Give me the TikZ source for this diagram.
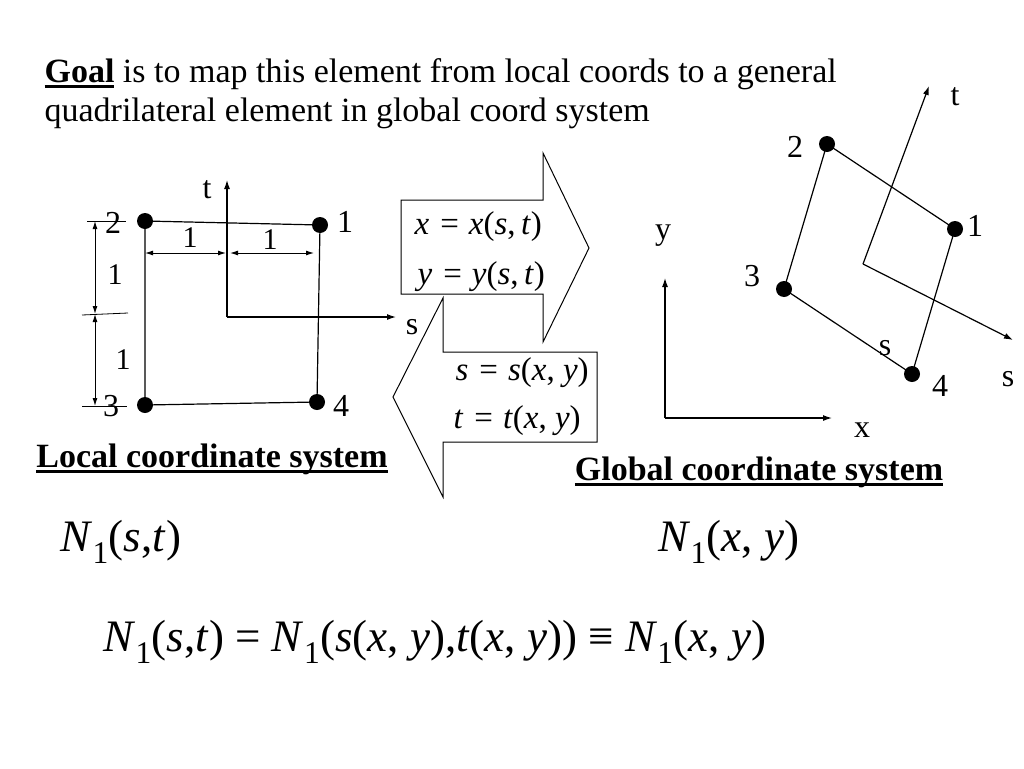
\documentclass[tikz,border=0pt]{standalone}
\usepackage{fontspec}
\setmainfont{Liberation Serif}
\usetikzlibrary{arrows.meta}
\newcommand{\fs}[1]{\fontsize{#1}{#1}\selectfont}
\newcommand{\vi}[1]{\textit{#1}}
\newsavebox{\ulbox}
\newcommand{\ul}[1]{\sbox{\ulbox}{#1}\rlap{\rule[-0.17em]{\wd\ulbox}{0.07em}}\usebox{\ulbox}}

\begin{document}
\begin{tikzpicture}[x=1pt,y=-1pt,line width=1.2pt,
  dot/.style={circle,fill,inner sep=0pt,minimum size=16pt},
  lbl/.style={inner sep=0pt,font=\fs{32}},
  ax/.style={-{Latex[length=9pt,width=6pt]}},
  dim/.style={{Latex[length=8pt,width=5pt]}-{Latex[length=8pt,width=5pt]}},
  blk/.style={draw,fill=white,line width=1pt},
  eq/.style={anchor=west,inner sep=0pt,font=\fs{33}},
  big/.style={anchor=base west,inner sep=0pt,font=\fs{45}}]
\useasboundingbox (0,0) rectangle (1024,768);

% title
\node[anchor=base west,inner sep=0pt,font=\fs{34}] (goal) at (44,82)
  {\ul{\textbf{Goal}} is to map this element from local coords to a general};
\node[anchor=base west,inner sep=0pt,font=\fs{34}] (goal2) at (44,121)
  {quadrilateral element in global coord system};

% local element
\node[dot] (l2) at (145,221) {};
\node[dot] (l1) at (320,225) {};
\node[dot] (l3) at (145,405) {};
\node[dot] (l4) at (317,402) {};
\draw (l2.center) -- (l1.center) -- (l4.center) -- (l3.center) -- cycle;
\node[lbl] at (113,223) {2};
\node[lbl] at (345,222) {1};
\node[lbl] at (111,406) {3};
\node[lbl] at (341,406) {4};

\coordinate (lo) at (227,317);
\coordinate (lt) at (227,180);
\coordinate (ls) at (396,317);
\draw[ax] (lo) -- (lt);
\draw[ax] (lo) -- (ls);
\node[lbl] at (207,190) {t};
\node[lbl] at (412,327) {s};

% dimensions
\coordinate (h1) at (145,253);
\coordinate (h2) at (226,253);
\coordinate (h3) at (230,253);
\coordinate (h4) at (314,253);
\draw[dim,line width=1pt] (h1) -- (h2);
\draw[dim,line width=1pt] (h3) -- (h4);
\node[lbl,font=\fs{30}] at (190,238) {1};
\node[lbl,font=\fs{30}] at (270,240) {1};
\coordinate (v1) at (95,221);
\coordinate (v2) at (95,314);
\coordinate (v3) at (95,406);
\draw[dim,line width=1pt] (v1) -- (v2);
\draw[dim,line width=1pt] (v2) -- (v3);
\node[lbl,font=\fs{30}] at (115,275) {1};
\node[lbl,font=\fs{30}] at (123,360) {1};
\draw[line width=0.8pt] (87,221) -- (126,221);
\draw[line width=0.8pt] (82,315) -- (128,313);
\draw[line width=0.8pt] (82,406) -- (127,406);

% block arrows
\draw[blk] (401,200) -- (543,200) -- (543,153) -- (589,248) -- (543,342)
  -- (543,294) -- (401,294) -- cycle;
\draw[blk] (393,397) -- (443,298) -- (443,352) -- (597,352) -- (597,442)
  -- (443,442) -- (443,497) -- cycle;
\node[eq] (ex) at (414,227) {\vi{x}\hspace{11pt}=\hspace{10pt}\vi{x}(\vi{s},\,\vi{t})};
\node[eq] (ey) at (417,277) {\vi{y}\hspace{11pt}=\hspace{10pt}\vi{y}(\vi{s},\,\vi{t})};
\node[eq] (es) at (455,373) {\vi{s}\hspace{11pt}=\hspace{10pt}\vi{s}(\vi{x},\ \vi{y})};
\node[eq] (et) at (453,421) {\vi{t}\hspace{11pt}=\hspace{10pt}\vi{t}(\vi{x},\ \vi{y})};

% global element
\node[dot] (g2) at (827,144) {};
\node[dot] (g1) at (955,229) {};
\node[dot] (g3) at (784,289) {};
\node[dot] (g4) at (912,374) {};
\draw (g2.center) -- (g1.center) -- (g4.center) -- (g3.center) -- cycle;
\node[lbl] at (795,147) {2};
\node[lbl] at (975,226) {1};
\node[lbl] at (752,276) {3};
\node[lbl] at (940,386) {4};
\node[lbl] at (885,348) {s};

\coordinate (go) at (863,264);
\coordinate (gt) at (929,86);
\coordinate (gs) at (1013,340);
\draw[ax] (go) -- (gt);
\draw[ax] (go) -- (gs);
\node[lbl] at (955,97) {t};
\node[lbl] at (1008,379) {s};

\coordinate (xo) at (665,418);
\coordinate (xy) at (665,278);
\coordinate (xx) at (832,418);
\draw[ax] (xo) -- (xy);
\draw[ax] (xo) -- (xx);
\node[lbl] at (663,236) {y};
\node[lbl] at (862,430) {x};

% captions
\node[anchor=base,inner sep=0pt,font=\fs{34}\bfseries] (cl) at (212,467)
  {\ul{Local coordinate system}};
\node[anchor=base,inner sep=0pt,font=\fs{34}\bfseries] (cg) at (759,480)
  {\ul{Global coordinate system}};

% shape functions
\node[big] (nl) at (60,551) {\vi{N}\textsubscript{1}(\vi{s},\vi{t})};
\node[big] (ng) at (658,551) {\vi{N}\textsubscript{1}(\vi{x}, \vi{y})};
\node[big] (nn) at (103,651) {\vi{N}\textsubscript{1}(\vi{s},\vi{t}) = \vi{N}\textsubscript{1}(\vi{s}(\vi{x}, \vi{y}),\vi{t}(\vi{x}, \vi{y})) ≡ \vi{N}\textsubscript{1}(\vi{x}, \vi{y})};
\end{tikzpicture}
\end{document}
